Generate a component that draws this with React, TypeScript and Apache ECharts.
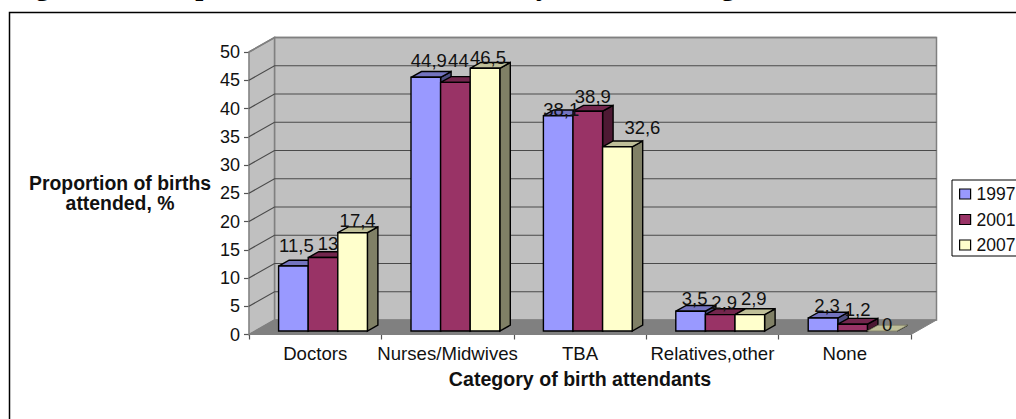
import React, { useEffect, useRef } from "react";
import * as echarts from "echarts";

const titleText = "Figure 3.4: Proportion of births attended by different categories in 1997, 2001, 2007";
const categories = ["Doctors", "Nurses/Midwives", "TBA", "Relatives,other", "None"];
const years = ["1997", "2001", "2007"];
const values1997 = [11.5, 44.9, 38.1, 3.5, 2.3];
const values2001 = [13, 44, 38.9, 2.9, 1.2];
const values2007 = [17.4, 46.5, 32.6, 2.9, 0];
const seriesValues = [values1997, values2001, values2007];
const yTicks = [0, 5, 10, 15, 20, 25, 30, 35, 40, 45, 50];

// styling and layout only
const faceColors = [
  { front: "#9999ff", top: "#7373bf", side: "#4d4d80" },
  { front: "#993366", top: "#73264d", side: "#4d1933" },
  { front: "#ffffcc", top: "#bfbf99", side: "#808066" },
];
const labelNudges = [
  [[3, -21], [3, -17], [3, -6], [4, -13], [4, -13]],
  [[5, -14], [3, -22], [5, -15], [4, -12], [5, -15]],
  [[5, -12], [3, -11], [25, -19], [4, -16], [5, -7]],
];
const WALL_DX = 25.5;
const WALL_DY = 14.5;
const BAR_W = 29.6;
const BAR_DX = 10.5;
const BAR_DY = 5.8;
const GROUP_SHIFT = 7.8;
const FLOOR_LIFT = 3.5;
const SANS = "'Liberation Sans', Arial, sans-serif";

function renderWalls(params: any, api: any) {
  const c = params.coordSys;
  const x0 = c.x, x1 = c.x + c.width, yTop = c.y, yBot = c.y + c.height;
  const wall = { fill: "#c0c0c0", stroke: "#808080", lineWidth: 1.5 };
  const children: any[] = [
    { type: "polygon", shape: { points: [[x0 + WALL_DX, yTop - WALL_DY], [x1 + WALL_DX, yTop - WALL_DY], [x1 + WALL_DX, yBot - WALL_DY], [x0 + WALL_DX, yBot - WALL_DY]] }, style: wall },
    { type: "polygon", shape: { points: [[x0, yTop], [x0 + WALL_DX, yTop - WALL_DY], [x0 + WALL_DX, yBot - WALL_DY], [x0, yBot]] }, style: wall },
  ];
  yTicks.forEach((v) => {
    if (v === 0) return;
    const y = api.coord([0, v])[1];
    children.push({
      type: "polyline",
      shape: { points: [[x0, y], [x0 + WALL_DX, y - WALL_DY], [x1 + WALL_DX, y - WALL_DY]] },
      style: { fill: "none", stroke: v === 50 ? "#808080" : "#4a4a4a", lineWidth: v === 50 ? 1.5 : 1.2 },
    });
  });
  children.push({
    type: "polygon",
    shape: { points: [[x0, yBot], [x0 + WALL_DX, yBot - WALL_DY], [x1 + WALL_DX, yBot - WALL_DY], [x1, yBot]] },
    style: { fill: "#808080", stroke: "#808080", lineWidth: 1 },
  });
  return { type: "group", children };
}

function barCenter(api: any, s: number, value: number) {
  const p = api.coord([api.value(0), value]);
  return [p[0] + GROUP_SHIFT + (s - 1) * BAR_W, p[1] - FLOOR_LIFT];
}

function renderBar(s: number) {
  return (_params: any, api: any) => {
    const v = api.value(1);
    const [cx, yT] = barCenter(api, s, v);
    const [, yB] = barCenter(api, s, 0);
    const l = cx - BAR_W / 2, r = cx + BAR_W / 2;
    const colors = faceColors[s];
    const edge = { stroke: "#000000", lineWidth: 1.4, lineJoin: "miter" };
    const children: any[] = [
      { type: "polygon", shape: { points: [[r, yT], [r + BAR_DX, yT - BAR_DY], [r + BAR_DX, yB - BAR_DY], [r, yB]] }, style: { fill: colors.side, ...edge } },
      { type: "polygon", shape: { points: [[l, yT], [l + BAR_DX, yT - BAR_DY], [r + BAR_DX, yT - BAR_DY], [r, yT]] }, style: v === 0 ? { fill: colors.top, stroke: "#808066", lineWidth: 0.8 } : { fill: colors.top, ...edge } },
    ];
    if (v > 0) {
      children.push({ type: "rect", shape: { x: l, y: yT, width: BAR_W, height: yB - yT }, style: { fill: colors.front, ...edge } });
    }
    return { type: "group", children };
  };
}

function renderLabel(s: number) {
  return (params: any, api: any) => {
    const v = api.value(1);
    const [cx, yT] = barCenter(api, s, v);
    const n = labelNudges[s][params.dataIndex];
    return {
      type: "text",
      x: cx + n[0],
      y: yT + n[1],
      style: {
        text: String(v).replace(".", ","),
        fill: "#111111",
        font: `18.5px ${SANS}`,
        align: "center",
        verticalAlign: "middle",
      },
    };
  };
}

const rowsOf = (vals: number[]) => vals.map((v, i) => [i, v]);

export default function App() {
  const ref = useRef<HTMLDivElement>(null);
  useEffect(() => {
    document.body.style.margin = "0";
    const chart = echarts.init(ref.current!, undefined, { renderer: "svg" });
    chart.setOption({
      animation: false,
      backgroundColor: "#ffffff",
      textStyle: { fontFamily: SANS },
      title: {
        text: titleText,
        left: 10,
        top: -37,
        padding: 0,
        textStyle: { fontFamily: "'Liberation Serif', serif", fontWeight: "bold", fontSize: 28.8, lineHeight: 44, color: "#000" },
      },
      graphic: [
        {
          type: "polyline",
          silent: true,
          shape: { points: [[9.5, 419], [9.5, 12.5], [1016, 12.5]] },
          style: { fill: "none", stroke: "#000", lineWidth: 1.5 },
        },
      ],
      grid: { left: 249, top: 52, width: 662, height: 282.5, containLabel: false },
      legend: {
        data: years,
        orient: "vertical",
        left: 952,
        top: 180,
        padding: [5, 12, 2, 7],
        itemWidth: 11,
        itemHeight: 10,
        itemGap: 7.5,
        icon: "rect",
        backgroundColor: "#fff",
        borderColor: "#000",
        borderWidth: 1,
        borderRadius: 0,
        selectedMode: false,
        textStyle: { fontSize: 17.5, color: "#111", fontFamily: SANS, padding: [0, 0, 0, 1] },
        itemStyle: { borderColor: "#000", borderWidth: 1.2 },
      },
      xAxis: {
        type: "category",
        data: categories,
        name: "Category of birth attendants",
        nameLocation: "middle",
        nameGap: 34,
        nameTextStyle: { fontWeight: "bold", fontSize: 19.6, color: "#111", fontFamily: SANS },
        axisLine: { lineStyle: { color: "#555", width: 1.2 } },
        axisTick: { show: true, length: 5, alignWithLabel: false, lineStyle: { color: "#555", width: 1.2 } },
        axisLabel: { fontSize: 18.6, color: "#111", margin: 9, interval: 0, fontFamily: SANS },
        splitLine: { show: false },
      },
      yAxis: {
        type: "value",
        min: 0,
        max: 50,
        interval: 5,
        name: "Proportion of births\nattended, %",
        nameLocation: "middle",
        nameRotate: 0,
        nameGap: 129,
        nameTextStyle: { fontWeight: "bold", fontSize: 19.4, color: "#111", fontFamily: SANS, align: "center", lineHeight: 20 },
        axisLine: { show: true, lineStyle: { color: "#555", width: 1.2 } },
        axisTick: { show: true, length: 5, lineStyle: { color: "#555", width: 1.2 } },
        axisLabel: { fontSize: 18, color: "#111", margin: 9, fontFamily: SANS },
        splitLine: { show: false },
      },
      series: [
        { type: "custom", name: "walls", silent: true, z: 1, data: [[0, 0]], renderItem: renderWalls, encode: { x: 0, y: 1 } },
        ...years.map((year, s) => ({
          type: "custom",
          name: year,
          z: 3,
          itemStyle: { color: faceColors[s].front },
          data: rowsOf(seriesValues[s]),
          encode: { x: 0, y: 1 },
          renderItem: renderBar(s),
        })),
        ...years.map((year, s) => ({
          type: "custom",
          name: `${year} labels`,
          silent: true,
          z: 4,
          data: rowsOf(seriesValues[s]),
          encode: { x: 0, y: 1 },
          renderItem: renderLabel(s),
        })),
      ],
    });
    return () => chart.dispose();
  }, []);
  return <div ref={ref} style={{ position: "absolute", left: 0, top: 0, width: 1016, height: 419 }} />;
}
